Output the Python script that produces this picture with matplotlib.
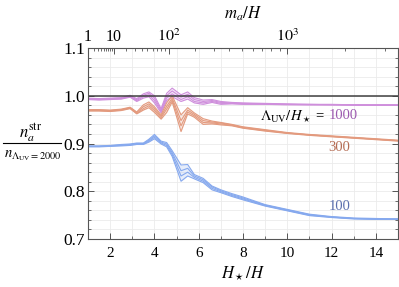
import numpy as np
import matplotlib
matplotlib.use("Agg")
import matplotlib.pyplot as plt
from matplotlib.lines import Line2D
from matplotlib.ticker import MultipleLocator, FixedLocator, NullFormatter

plt.rcParams['font.family'] = ['Liberation Serif', 'DejaVu Serif']
plt.rcParams['mathtext.fontset'] = 'stix'

# H_star / H sample points
h_ratio = [1.0, 1.5, 2.0, 2.5, 2.9, 3.2, 3.5, 3.75, 4.0, 4.3, 4.55, 4.8, 5.2, 5.5,
           5.8, 6.2, 6.6, 7.0, 7.5, 8.0, 9.0, 10.0, 11.0, 12.0, 13.0, 14.0, 15.0]

# Lambda_UV/H_star = 1000 (purple), four curves
purple_1 = [0.992, 0.991, 0.992, 0.993, 0.997, 0.988, 0.995, 0.998, 0.985, 0.964, 0.990, 0.998, 0.988, 0.993,
            0.985, 0.982, 0.986, 0.982, 0.983, 0.982, 0.982, 0.981, 0.981, 0.981, 0.980, 0.980, 0.980]
purple_2 = [0.993, 0.992, 0.993, 0.994, 0.998, 0.990, 0.998, 1.002, 0.990, 0.967, 0.995, 1.004, 0.992, 0.998,
            0.988, 0.985, 0.988, 0.984, 0.984, 0.983, 0.983, 0.982, 0.981, 0.981, 0.981, 0.980, 0.980]
purple_3 = [0.994, 0.993, 0.994, 0.995, 0.999, 0.992, 1.001, 1.005, 0.995, 0.970, 1.000, 1.010, 0.997, 1.003,
            0.992, 0.988, 0.990, 0.986, 0.985, 0.984, 0.983, 0.982, 0.982, 0.981, 0.981, 0.981, 0.981]
purple_4 = [0.995, 0.994, 0.995, 0.996, 1.001, 0.994, 1.004, 1.008, 1.000, 0.973, 1.005, 1.016, 1.002, 1.008,
            0.996, 0.991, 0.992, 0.988, 0.986, 0.985, 0.984, 0.983, 0.982, 0.982, 0.981, 0.981, 0.981]

# Lambda_UV/H_star = 300 (orange)
orange_1 = [0.968, 0.968, 0.967, 0.969, 0.973, 0.962, 0.970, 0.975, 0.965, 0.951, 0.965, 0.987, 0.925, 0.962,
            0.955, 0.940, 0.941, 0.939, 0.937, 0.932, 0.926, 0.921, 0.917, 0.914, 0.911, 0.908, 0.905]
orange_2 = [0.969, 0.969, 0.968, 0.970, 0.974, 0.963, 0.973, 0.979, 0.969, 0.954, 0.972, 0.991, 0.937, 0.966,
            0.958, 0.944, 0.943, 0.941, 0.938, 0.933, 0.927, 0.922, 0.918, 0.915, 0.912, 0.909, 0.906]
orange_3 = [0.970, 0.970, 0.969, 0.971, 0.975, 0.965, 0.977, 0.983, 0.973, 0.957, 0.978, 0.995, 0.948, 0.970,
            0.961, 0.948, 0.945, 0.943, 0.939, 0.934, 0.928, 0.922, 0.918, 0.915, 0.912, 0.909, 0.906]
orange_4 = [0.971, 0.971, 0.970, 0.972, 0.976, 0.966, 0.981, 0.987, 0.977, 0.960, 0.985, 1.000, 0.960, 0.975,
            0.964, 0.952, 0.947, 0.944, 0.940, 0.935, 0.929, 0.923, 0.919, 0.916, 0.913, 0.910, 0.907]

# Lambda_UV/H_star = 100 (blue)
blue_1 = [0.893, 0.893, 0.894, 0.895, 0.896, 0.898, 0.898, 0.903, 0.910, 0.899, 0.893, 0.873, 0.821, 0.832,
          0.826, 0.818, 0.803, 0.797, 0.789, 0.782, 0.769, 0.759, 0.749, 0.745, 0.742, 0.741, 0.741]
blue_2 = [0.894, 0.894, 0.895, 0.896, 0.897, 0.899, 0.899, 0.905, 0.913, 0.901, 0.896, 0.877, 0.832, 0.840,
          0.829, 0.821, 0.806, 0.799, 0.791, 0.784, 0.770, 0.760, 0.750, 0.746, 0.743, 0.742, 0.742]
blue_3 = [0.894, 0.894, 0.895, 0.897, 0.898, 0.900, 0.900, 0.907, 0.916, 0.903, 0.899, 0.881, 0.843, 0.848,
          0.832, 0.824, 0.809, 0.801, 0.793, 0.786, 0.771, 0.761, 0.751, 0.746, 0.743, 0.742, 0.742]
blue_4 = [0.895, 0.895, 0.896, 0.898, 0.899, 0.901, 0.901, 0.909, 0.919, 0.905, 0.902, 0.885, 0.855, 0.856,
          0.835, 0.827, 0.811, 0.803, 0.795, 0.788, 0.772, 0.762, 0.752, 0.747, 0.744, 0.743, 0.742]

top_major = [1, 10, 100, 1000]
top_labels = ['1', '10', r'$10^2$', r'$10^3$']
top_minor = [2, 3, 4, 5, 6, 7, 8, 9, 20, 30, 40, 50, 60, 70, 80, 90,
             200, 300, 400, 500, 600, 700, 800, 900, 2000, 3000]

bands = [
    ([purple_1, purple_2, purple_3, purple_4], '#cf8fdc'),
    ([orange_1, orange_2, orange_3, orange_4], '#e39a7e'),
    ([blue_1, blue_2, blue_3, blue_4], '#86a9ee'),
]

fig = plt.figure(figsize=(3.99, 2.87), dpi=100)
ax = fig.add_axes([0.2206, 0.1672, 0.777, 0.6656])

ax.set_xlim(1, 15)
ax.set_ylim(0.7, 1.1)

for curves, col in bands:
    ax.fill_between(h_ratio, curves[0], curves[-1], color=col, alpha=0.2, lw=0)
    for c in curves:
        ax.plot(h_ratio, c, color=col, lw=0.8)

ax.axhline(1.0, color='#404040', lw=1.1)

ax.xaxis.set_major_locator(FixedLocator([2, 4, 6, 8, 10, 12, 14]))
ax.xaxis.set_minor_locator(MultipleLocator(1))
ax.yaxis.set_major_locator(MultipleLocator(0.1))
ax.yaxis.set_minor_locator(MultipleLocator(0.02))
ax.yaxis.set_major_formatter(matplotlib.ticker.FormatStrFormatter('%.1f'))
ax.grid(True, which='both', color='#ebebeb', lw=0.6)
ax.set_axisbelow(True)

ax.tick_params(which='both', direction='in', top=False, right=True, color='#555555')
ax.tick_params(which='major', length=4, width=0.7)
ax.tick_params(which='minor', length=2, width=0.6)
ax.tick_params(axis='x', labelsize=11, pad=6)
ax.tick_params(axis='y', labelsize=12.5, pad=2)
for s in ax.spines.values():
    s.set_color('#555555')
    s.set_linewidth(0.8)

ax.set_xlabel(r'$H_\star/H$', fontsize=12, labelpad=3)

# y label drawn as a stacked fraction
fig.text(31 / 399, 1 - 133 / 287, r'$n_a^{\rm str}$', fontsize=12, ha='center', va='center')
fig.add_artist(Line2D([3 / 399, 61 / 399], [1 - 143 / 287] * 2, color='black', lw=0.8))
fig.text(33 / 399, 1 - 156 / 287, r'$n_{\Lambda_{\rm UV}=2000}$', fontsize=10.5, ha='center', va='center')

# top axis: m_a/H = (H_star/H)^3
top = ax.twiny()
top.set_xlim(ax.get_xlim())
top.xaxis.set_major_locator(FixedLocator([m ** (1 / 3) for m in top_major]))
top.xaxis.set_minor_locator(FixedLocator([m ** (1 / 3) for m in top_minor]))
top.set_xticklabels(top_labels)
top.xaxis.set_minor_formatter(NullFormatter())
top.tick_params(which='both', direction='in', color='#555555', labelsize=11.5, pad=2)
top.tick_params(which='major', length=4, width=0.7)
top.tick_params(which='minor', length=2, width=0.6)
top.set_xlabel(r'$m_a/H$', fontsize=12, labelpad=7)
for s in top.spines.values():
    s.set_visible(False)

ax.text(11.7, 0.958, r'$\Lambda_{\rm UV}/H_\star$ =', fontsize=10.5, ha='right', va='center')
ax.text(11.85, 0.958, '1000', fontsize=10.5, color='#9c5ab0', ha='left', va='center')
ax.text(12.35, 0.892, '300', fontsize=10.5, color='#b56d55', ha='center', va='center')
ax.text(12.35, 0.769, '100', fontsize=10.5, color='#5b6fae', ha='center', va='center')

fig.savefig('out.png', dpi=100)
